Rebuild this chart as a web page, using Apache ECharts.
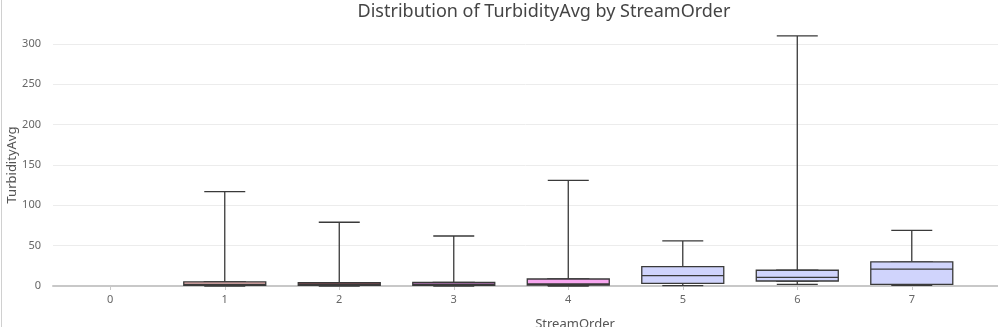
<!DOCTYPE html>
<html>
<head>
<meta charset="utf-8">
<script src="https://cdn.jsdelivr.net/npm/echarts@6/dist/echarts.min.js"></script>
<style>html,body{margin:0;padding:0;background:#fff;}#c{width:998px;height:327px;}</style>
</head>
<body>
<div id="c"></div>
<script>
// Stream orders (x categories)
const categories = [0, 1, 2, 3, 4, 5, 6, 7];
// Box statistics per stream order: [min, Q1, median, Q3, max]; order 0 has no data
const boxMin    = [null, 0,   0,   0,   0,   0.4, 2.1, 0.8];
const boxQ1     = [null, 0.8, 0.8, 0.8, 1.2, 3.3, 6.2, 2.1];
const boxMedian = [null, 2,   2,   2,   2.5, 12.8, 10.8, 21];
const boxQ3     = [null, 5,   4.1, 4.5, 8.7, 24,  19.5, 30];
const boxMax    = [null, 117, 79,  62,  131, 56,  310, 69];
const yTicks = [0, 50, 100, 150, 200, 250, 300];

const fills = ['#d0d4fc', '#f3b9b9', '#8c4d55', '#b373b3', '#f7a6ef', '#d0d4fc', '#d0d4fc', '#d0d4fc'];

const whiskerData = [];
const boxData = [];
categories.forEach((c, i) => {
  if (boxMin[i] === null) return;
  whiskerData.push({
    value: [c, boxMin[i], boxQ1[i], boxMedian[i], boxQ3[i], boxMax[i]],
    itemStyle: { color: '#ffffff', borderColor: '#3a3a3a', borderWidth: 1.3 }
  });
  boxData.push({
    value: [c, boxQ1[i], boxQ1[i], boxMedian[i], boxQ3[i], boxQ3[i]],
    itemStyle: { color: fills[i], borderColor: '#3a3a3a', borderWidth: 1.3 }
  });
});

const xBase = {
  type: 'value',
  min: -0.5,
  max: 7.753,
  splitLine: { show: false }
};

const chart = echarts.init(document.getElementById('c'), null, { renderer: 'canvas' });
chart.setOption({
  animation: false,
  title: [{
    text: 'Distribution of TurbidityAvg by StreamOrder',
    left: 539, textAlign: 'center', top: -2,
    textStyle: { fontFamily: 'Noto Sans', fontSize: 18, fontWeight: 'normal', color: '#444' }
  }, {
    text: 'StreamOrder',
    left: 570, textAlign: 'center', top: 313,
    textStyle: { fontFamily: 'Noto Sans', fontSize: 13, fontWeight: 'normal', color: '#555' }
  }],
  graphic: [{
    type: 'line', shape: { x1: 1.5, y1: 0, x2: 1.5, y2: 327 },
    style: { stroke: '#d0d0d0', lineWidth: 1 }, silent: true
  }, {
    type: 'text', x: 12, y: 165, rotation: Math.PI / 2, silent: true,
    style: { text: 'TurbidityAvg', fontFamily: 'Noto Sans', fontSize: 13, fill: '#555',
      align: 'center', verticalAlign: 'middle' }
  }],
  grid: { left: 53, right: 0, top: 44, bottom: 41, containLabel: false, outerBoundsMode: 'none' },
  xAxis: [Object.assign({}, xBase, {
    axisLine: { show: true, onZero: false, lineStyle: { color: '#c8c8c8', width: 2 } },
    axisTick: { show: true, customValues: categories, length: 4, lineStyle: { color: '#c8c8c8' } },
    axisLabel: { customValues: categories, color: '#666', fontFamily: 'Noto Sans', fontSize: 11, margin: 8 }
  }), Object.assign({}, xBase, {
    show: false, position: 'bottom'
  })],
  yAxis: {
    type: 'value',
    min: 0,
    max: 300,
    interval: 50,
    axisLine: { show: false },
    axisTick: { show: false },
    axisLabel: { color: '#666', fontFamily: 'Noto Sans', fontSize: 11, margin: 12,
      formatter: v => (yTicks.indexOf(v) >= 0 ? String(v) : '') },
    splitLine: { lineStyle: { color: '#ececec', width: 1 } }
  },
  series: [{
    type: 'boxplot',
    xAxisIndex: 0,
    boxWidth: [41, 41],
    z: 2,
    data: whiskerData
  }, {
    type: 'boxplot',
    xAxisIndex: 1,
    boxWidth: [82, 82],
    z: 3,
    data: boxData
  }]
});
</script>
</body>
</html>
